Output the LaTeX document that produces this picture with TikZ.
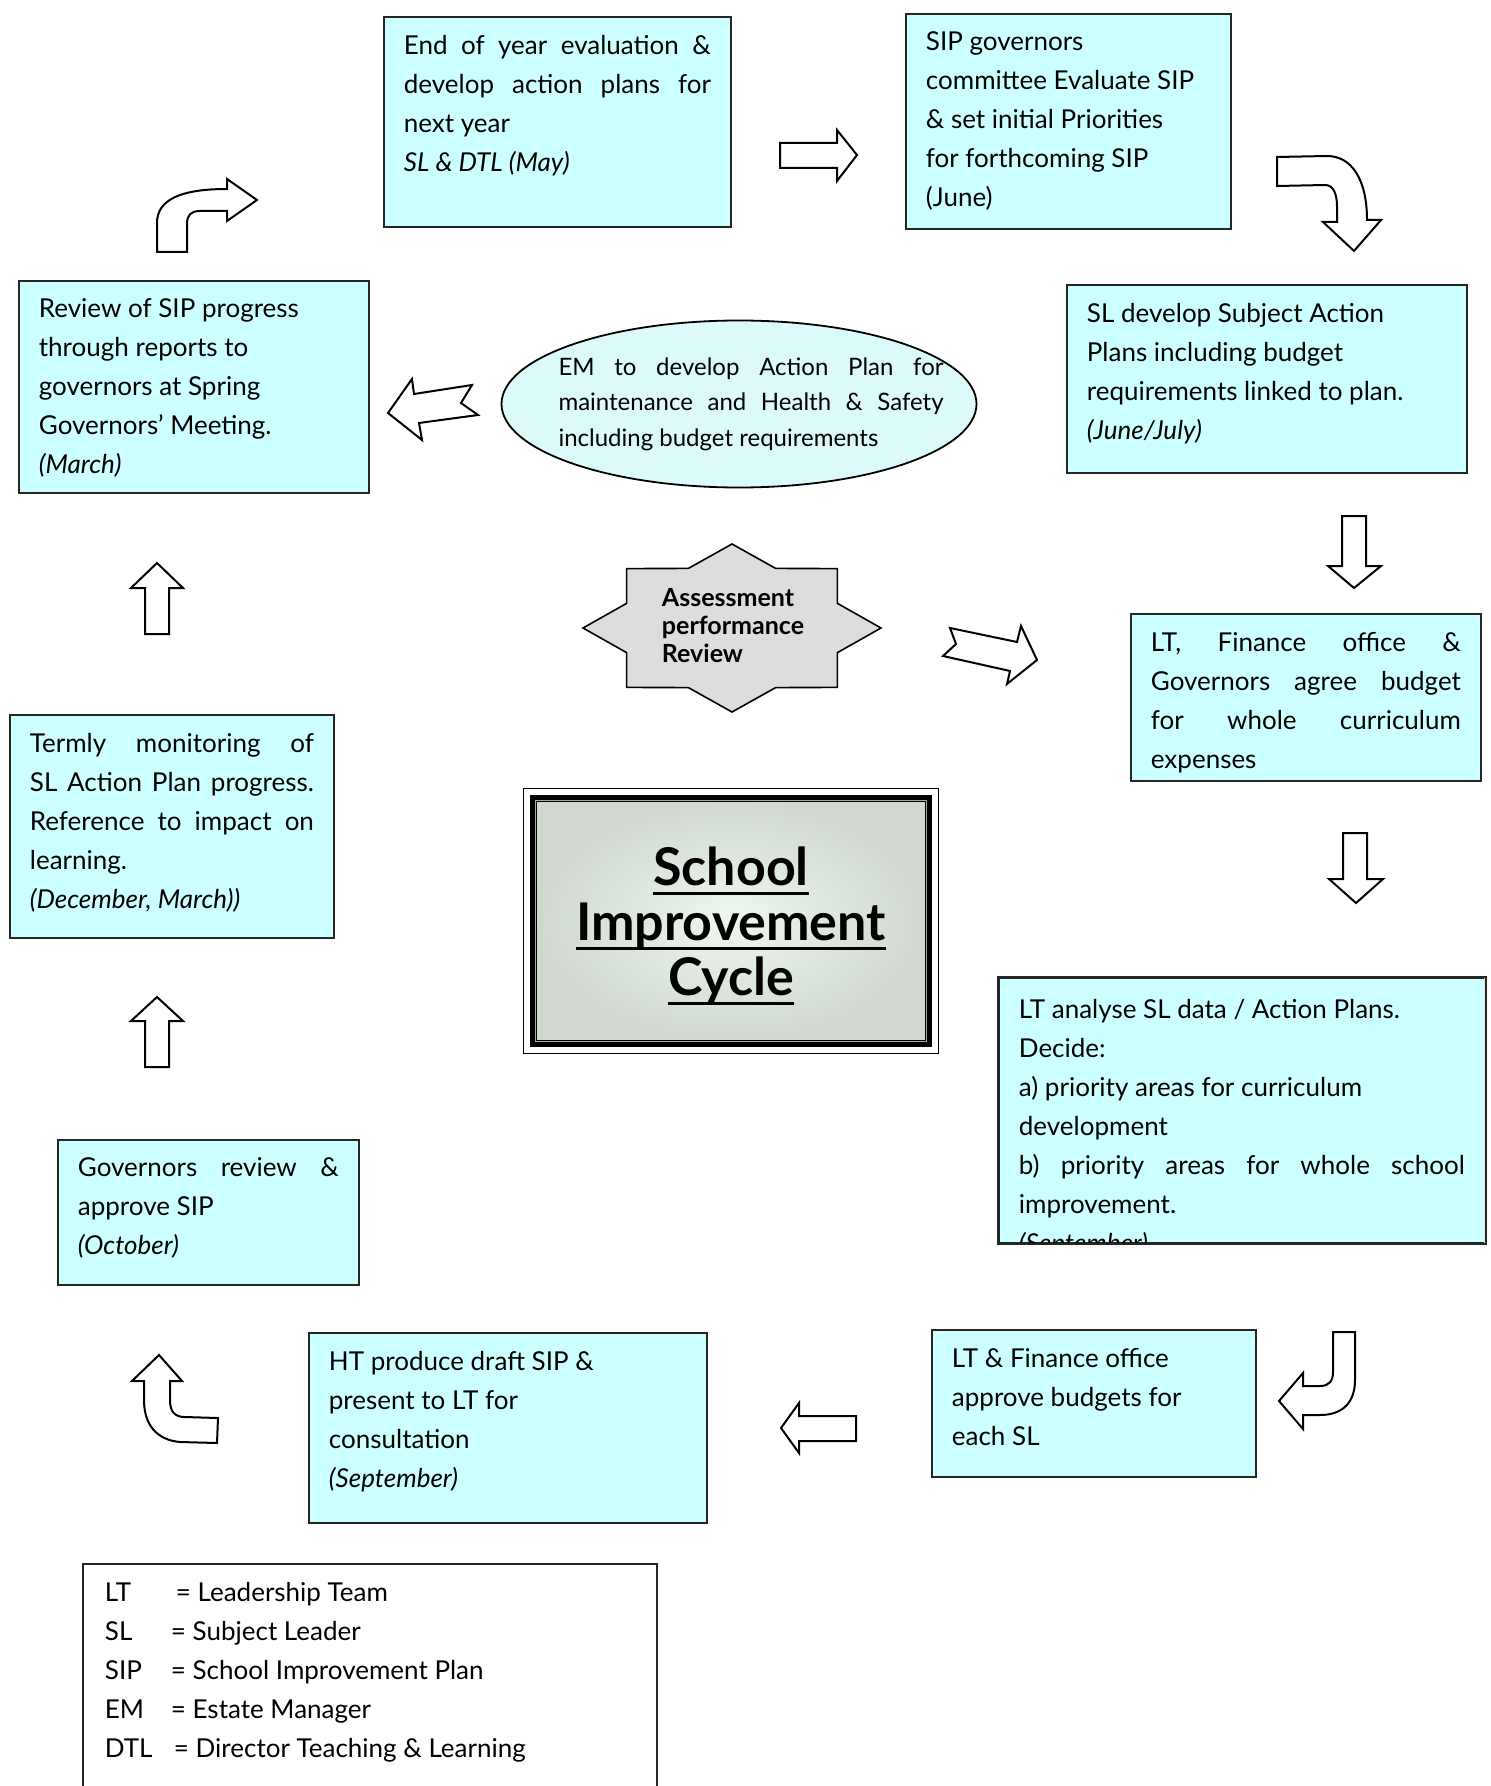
\documentclass[tikz,border=0pt]{standalone}
\usepackage{fontspec}
\setmainfont{Lato}
\usepackage{tikz}
\usetikzlibrary{shapes.geometric}
\definecolor{boxcyan}{HTML}{CCFFFF}
\definecolor{emcyan}{HTML}{DDFAFA}
\definecolor{stargray}{HTML}{DDDDDD}
\definecolor{titlein}{HTML}{EEF8EE}
\definecolor{titleout}{HTML}{CFD7CF}
\newcommand{\boxtext}[3]{\parbox[c][#2][t]{#1}{#3}}
\newcommand{\titleline}[1]{\leavevmode\setbox0=\hbox{#1}\rlap{\rule[-4.5pt]{\wd0}{1.6pt}}\box0}

\begin{document}
\begin{tikzpicture}[x=0.5pt, y=-0.5pt, line join=miter,
    stage/.style={draw=black!85, fill=boxcyan, line width=0.9pt, anchor=north west,
      inner xsep=10pt, inner ysep=9pt, font=\fontsize{13}{19.5}\selectfont},
    legend/.style={stage, fill=white, inner xsep=11pt},
    blockarrow/.style={draw, line width=1pt, fill=white},
    emshape/.style={ellipse, draw, line width=0.9pt, fill=emcyan, inner sep=0pt,
      minimum width=237.5pt, minimum height=83.5pt},
    starbox/.style={draw, line width=0.8pt, fill=stargray},
    titlebox/.style={draw, line width=3.25pt, inner color=titlein, outer color=titleout,
      minimum width=197.5pt, minimum height=122.5pt},
    titletext/.style={align=center, inner sep=0pt, font=\fontsize{26}{27.5}\selectfont\bfseries}]
  \useasboundingbox (0,0) rectangle (1491,1786);

  % cycle of stages
  \node[stage] (evaluate) at (383,16) {\boxtext{153.5pt}{87pt}{End of year evaluation \&\linebreak
    develop action plans for\linebreak next year\\ \textit{SL \& DTL (May)}}};
  \node[stage] (governors) at (905,13) {\boxtext{142.5pt}{89.5pt}{\raggedright SIP governors\\
    committee Evaluate SIP\\ \& set initial Priorities\\ for forthcoming SIP\\ (June)}};
  \node[stage] (subject) at (1066,284) {\boxtext{180pt}{76pt}{\raggedright SL develop Subject Action\\
    Plans including budget\\ requirements linked to plan.\\ \textit{(June/July)}}};
  \node[stage] (budget) at (1130,613) {\boxtext{155pt}{65.5pt}{LT, Finance office \&\linebreak
    Governors agree budget\linebreak for whole curriculum\linebreak expenses}};
  \begin{scope}
    \clip (998,977) rectangle (1484,1242);
    \node[stage] (analyse) at (998,977) {\boxtext{223pt}{114.5pt}{\vspace*{1.8pt}LT analyse SL data / Action Plans.\\
      Decide:\\ a) priority areas for curriculum\\ development\\
      b) priority areas for whole school\linebreak improvement.\\ \textit{(September)}}};
  \end{scope}
  \draw[draw=black!85, line width=0.9pt] (analyse.north west) rectangle (analyse.south east);
  \node[stage] (approve) at (931,1329) {\boxtext{142pt}{55.5pt}{\raggedright LT \& Finance office\\
    approve budgets for\\ each SL}};
  \node[stage] (draft) at (308,1332) {\boxtext{179pt}{77pt}{\raggedright HT produce draft SIP \&\\
    present to LT for\\ consultation\\ \textit{(September)}}};
  \node[stage] (ratify) at (57,1139) {\boxtext{130.5pt}{54.5pt}{Governors review \&\linebreak
    approve SIP\\ \textit{(October)}}};
  \node[stage] (termly) at (9,714) {\boxtext{142pt}{93.5pt}{Termly monitoring of\linebreak
    SL Action Plan progress.\linebreak Reference to impact on\linebreak learning.\\
    \textit{(December, March))}}};
  \node[stage] (progress) at (18,280) {\boxtext{155pt}{88pt}{\raggedright Review of SIP progress\\
    through reports to\\ governors at Spring\\ Governors' Meeting.\\ \textit{(March)}}};

  % estates plan
  \node[emshape] (estate) at (739,404) {};
  \node[font=\fontsize{12}{17.7}\selectfont, inner sep=0pt] (estatetext) at ([xshift=6pt]estate.center)
    {\parbox{192.5pt}{EM to develop Action Plan for\linebreak maintenance and Health \& Safety\linebreak
    including budget requirements}};

  % assessment star
  \draw[starbox, shift={(732,628)}] (0:149 and 84)
    \foreach \a in {45,90,...,315} {-- (\a-22.5:114 and 64.5) -- (\a:149 and 84)}
    -- (337.5:114 and 64.5) -- cycle;
  \node[align=left, inner sep=0pt, font=\fontsize{12.5}{14}\selectfont\bfseries] (assess)
    at (733,626) {Assessment\\ performance\\ Review};

  % title
  \node[titlebox] (title) at (731,921) {};
  \draw[line width=0.6pt] ([xshift=-3.25pt,yshift=3.25pt]title.north west)
    rectangle ([xshift=3.25pt,yshift=-3.25pt]title.south east);
  \draw[black!35, line width=0.5pt] ([xshift=2.6pt,yshift=-2.6pt]title.north west)
    rectangle ([xshift=-2.6pt,yshift=2.6pt]title.south east);
  \node[titletext] (titlename) at ([yshift=-2.5pt]title.center)
    {\titleline{School}\\ \titleline{Improvement}\\ \titleline{Cycle}};

  % block arrows
  \draw[blockarrow] (157,252) -- (157,223) .. controls (157,200) and (180,189) .. (227,189)
    -- (227,179) -- (257,200) -- (227,221) -- (227,211) -- (200,211)
    .. controls (191,211) and (187,215) .. (187,224) -- (187,252) -- cycle;
  \draw[blockarrow] (780,143) -- (837,143) -- (837,130) -- (857,155) -- (837,181) -- (837,168)
    -- (780,168) -- cycle;
  \draw[blockarrow] (1277,157) -- (1327,156) .. controls (1352,156) and (1367,180) .. (1367,220)
    -- (1381,220) -- (1354,251) -- (1323,222) -- (1337,222) -- (1337,207)
    .. controls (1337,193) and (1333,185) .. (1325,185) -- (1277,186) -- cycle;
  \draw[blockarrow] (1342,516) -- (1366,516) -- (1366,566) -- (1381,566) -- (1354,588)
    -- (1328,566) -- (1342,566) -- cycle;
  \draw[blockarrow] (1343,833) -- (1367,833) -- (1367,879) -- (1383,879) -- (1356,903)
    -- (1329,879) -- (1343,879) -- cycle;
  \draw[blockarrow] (1333,1332) -- (1355,1332) -- (1355,1380) .. controls (1355,1402) and (1343,1415) .. (1320,1415)
    -- (1303,1415) -- (1303,1429) -- (1279,1401) -- (1303,1373) -- (1303,1386) -- (1320,1386)
    .. controls (1329,1386) and (1333,1381) .. (1333,1372) -- cycle;
  \draw[blockarrow] (856,1416) -- (799,1416) -- (799,1403) -- (781,1428) -- (799,1453) -- (799,1441)
    -- (856,1441) -- cycle;
  \draw[blockarrow] (159,1355) -- (182,1381) -- (170,1381) -- (170,1400) .. controls (170,1412) and (175,1417) .. (185,1417)
    -- (218,1418) -- (217,1443) -- (180,1442) .. controls (157,1440) and (144,1425) .. (144,1400)
    -- (144,1381) -- (132,1381) -- cycle;
  \draw[blockarrow] (145,1067) -- (145,1021) -- (131,1021) -- (157,997) -- (183,1021) -- (169,1021)
    -- (169,1067) -- cycle;
  \draw[blockarrow] (145,634) -- (145,588) -- (131,588) -- (157,563) -- (183,588) -- (169,588)
    -- (169,634) -- cycle;
  \draw[blockarrow] (388,413) -- (412,379) -- (414,394) -- (472,385) -- (461,403) -- (478,415)
    -- (419,423) -- (422,440) -- cycle;
  \draw[blockarrow] (950,628) -- (1017,642) -- (1021,626) -- (1037,660) -- (1007,684) -- (1010,671)
    -- (943,656) -- (956,644) -- cycle;

  % key
  \node[legend] (key) at (82,1563) {\boxtext{265pt}{140pt}{\raggedright
    \makebox[35.5pt][l]{LT}= Leadership Team\\
    \makebox[33pt][l]{SL}= Subject Leader\\
    \makebox[33pt][l]{SIP}= School Improvement Plan\\
    \makebox[33pt][l]{EM}= Estate Manager\\
    \makebox[34.5pt][l]{DTL}= Director Teaching \& Learning}};
\end{tikzpicture}
\end{document}
